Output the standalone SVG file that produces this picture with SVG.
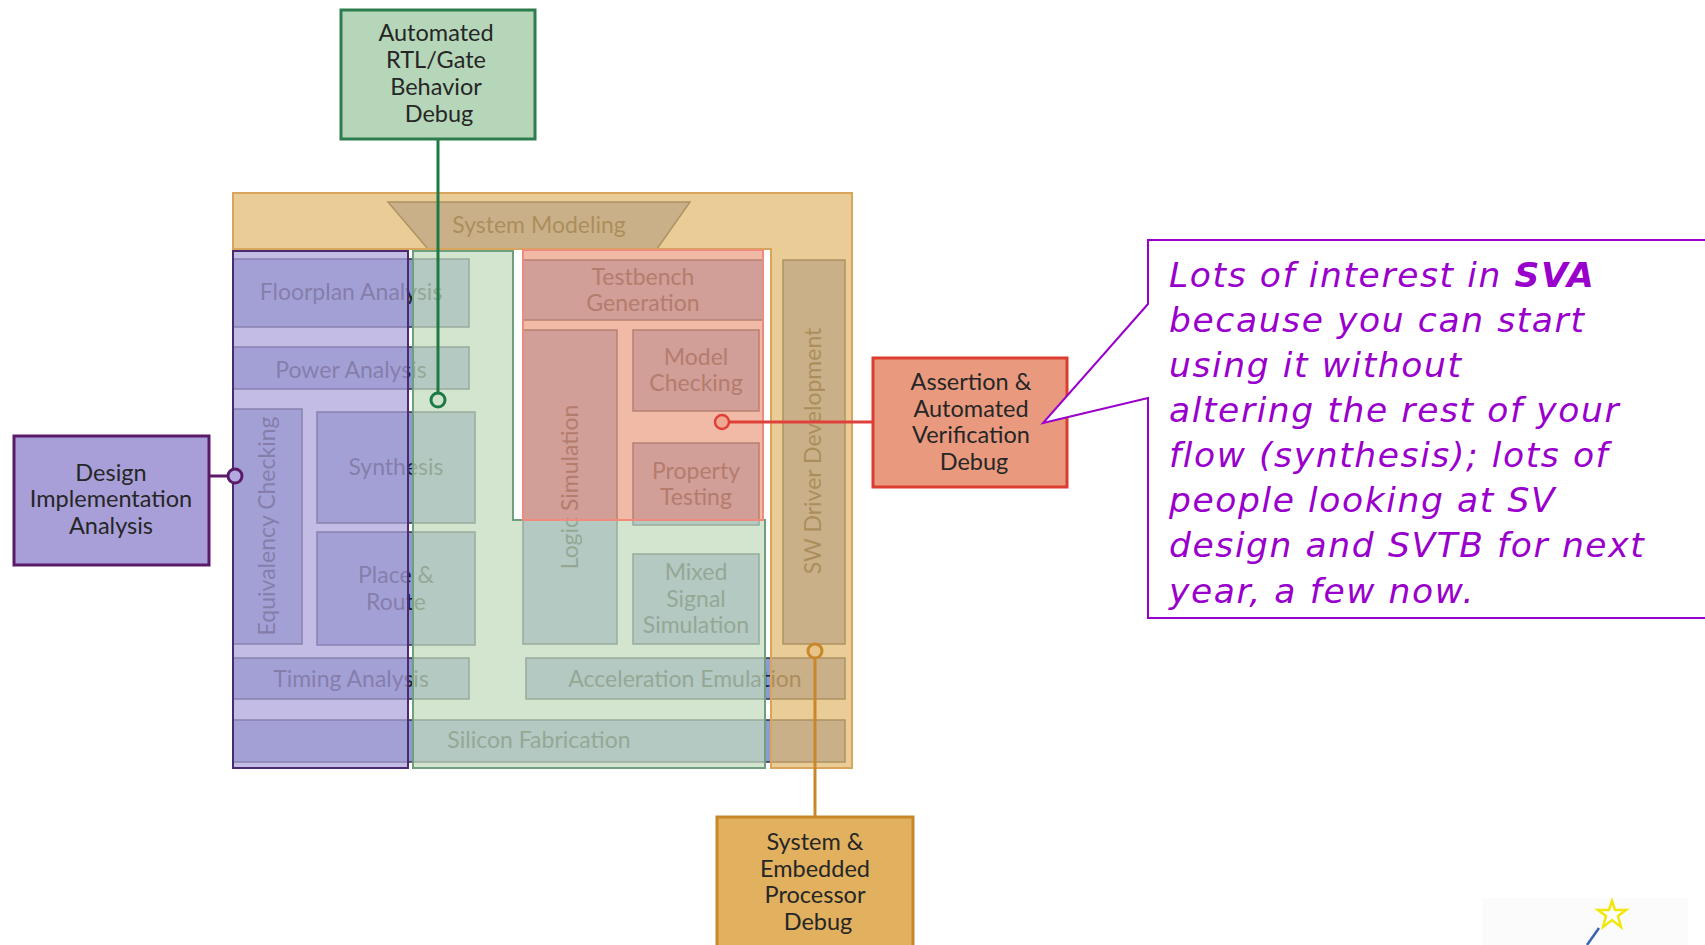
<svg xmlns="http://www.w3.org/2000/svg" width="1705" height="945" viewBox="0 0 1705 945">
<style>
text{font-family:Lato,"Liberation Sans",sans-serif}
.b{fill:#8e9bcc;stroke:#303048;stroke-width:1.5}
.t{font-size:23px;fill:#202030;text-anchor:middle}
.ov{fill-opacity:0.72;stroke-width:2}
.et{font-size:23.5px;fill:#262626;text-anchor:middle}
.co{font-family:"DejaVu Sans",Verdana,sans-serif;font-style:italic;font-size:34.5px;letter-spacing:1.6px;fill:#9900cc}
.cn{fill:none;stroke-width:3}
</style>
<rect width="1705" height="945" fill="#ffffff"/>

<g id="flow-blocks">
  <g id="system-modeling"><polygon class="b" points="388,202 690,202 657,249 428,249"/><text class="t" x="539" y="233">System Modeling</text></g>
  <g id="floorplan-analysis"><rect class="b" x="233" y="259" width="236" height="68"/><text class="t" x="351" y="300">Floorplan Analysis</text></g>
  <g id="power-analysis"><rect class="b" x="233" y="347" width="236" height="42"/><text class="t" x="351" y="378">Power Analysis</text></g>
  <g id="equivalency-checking"><rect class="b" x="233" y="409" width="69" height="235"/><text class="t" transform="translate(275,526) rotate(-90)">Equivalency Checking</text></g>
  <g id="synthesis"><rect class="b" x="317" y="412" width="158" height="111"/><text class="t" x="396" y="475">Synthesis</text></g>
  <g id="place-route"><rect class="b" x="317" y="532" width="158" height="113"/><text class="t" x="396" y="583">Place &amp;</text><text class="t" x="396" y="610">Route</text></g>
  <g id="timing-analysis"><rect class="b" x="233" y="658" width="236" height="41"/><text class="t" x="351" y="687">Timing Analysis</text></g>
  <g id="silicon-fabrication"><rect class="b" x="233" y="720" width="612" height="42"/><text class="t" x="539" y="748">Silicon Fabrication</text></g>
  <g id="testbench-generation"><rect class="b" x="523" y="260" width="240" height="60"/><text class="t" x="643" y="285">Testbench</text><text class="t" x="643" y="311">Generation</text></g>
  <g id="logic-simulation"><rect class="b" x="523" y="330" width="94" height="314"/><text class="t" transform="translate(578,487) rotate(-90)">Logic Simulation</text></g>
  <g id="model-checking"><rect class="b" x="633" y="330" width="126" height="81"/><text class="t" x="696" y="365">Model</text><text class="t" x="696" y="391">Checking</text></g>
  <g id="property-testing"><rect class="b" x="633" y="443" width="126" height="82"/><text class="t" x="696" y="479">Property</text><text class="t" x="696" y="505">Testing</text></g>
  <g id="mixed-signal-simulation"><rect class="b" x="633" y="554" width="126" height="90"/><text class="t" x="696" y="580">Mixed</text><text class="t" x="696" y="607">Signal</text><text class="t" x="696" y="633">Simulation</text></g>
  <g id="sw-driver-development"><rect class="b" x="783" y="260" width="62" height="384"/><text class="t" transform="translate(821,451) rotate(-90)" font-size="24">SW Driver Development</text></g>
  <g id="acceleration-emulation"><rect class="b" x="526" y="658" width="319" height="41"/><text class="t" x="685" y="687">Acceleration Emulation</text></g>
</g>

<g id="regions">
  <path id="region-system" class="ov" d="M233,193 H852 V768 H771 V249 H233 Z" fill="#e0b96e" stroke="#d9a45c"/>
  <rect id="region-implementation" class="ov" x="233" y="251" width="175" height="517" fill="#aca2da" stroke="#4a2a70"/>
  <path id="region-rtl" class="ov" d="M413,251 H513 V520 H765 V768 H413 Z" fill="#c2dbbc" stroke="#6e9f7e" stroke-width="1.5"/>
  <rect id="region-verification" class="ov" x="523" y="250" width="240" height="270" fill="#ec9f83" stroke="#f08a7a"/>
</g>

<g id="connectors">
  <line class="cn" x1="438" y1="139" x2="438" y2="393" stroke="#1e7a45"/>
  <circle cx="438" cy="400" r="7" fill="#cfe3cc" stroke="#1e7a45" stroke-width="3"/>
  <line class="cn" x1="209" y1="476" x2="228" y2="476" stroke="#5a1a6a"/>
  <circle cx="235" cy="476" r="7" fill="#b3abe0" stroke="#5a1a6a" stroke-width="3"/>
  <line class="cn" x1="729" y1="422" x2="873" y2="422" stroke="#e0403a" stroke-width="2.5"/>
  <circle cx="722" cy="422" r="7" fill="#f0a890" stroke="#e0403a" stroke-width="2.5"/>
  <line class="cn" x1="815" y1="658" x2="815" y2="817" stroke="#c8872b"/>
  <circle cx="815" cy="651" r="7" fill="#e6c48a" stroke="#c8872b" stroke-width="3"/>
</g>

<g id="node-rtl-debug">
  <rect x="341" y="10" width="194" height="129" fill="#b5d6b8" stroke="#2e7d4f" stroke-width="3"/>
  <text class="et" x="436" y="41">Automated</text>
  <text class="et" x="436" y="68">RTL/Gate</text>
  <text class="et" x="436" y="95">Behavior</text>
  <text class="et" x="439" y="122">Debug</text>
</g>
<g id="node-design-impl">
  <rect x="14" y="436" width="195" height="129" fill="#a89fd8" stroke="#5a1a6a" stroke-width="3"/>
  <text class="et" x="111" y="481">Design</text>
  <text class="et" x="111" y="507">Implementation</text>
  <text class="et" x="111" y="534">Analysis</text>
</g>
<g id="node-assertion">
  <rect x="873" y="358" width="194" height="129" fill="#e99a7e" stroke="#dd3c30" stroke-width="3"/>
  <text class="et" x="971" y="390">Assertion &amp;</text>
  <text class="et" x="971" y="417">Automated</text>
  <text class="et" x="971" y="443">Verification</text>
  <text class="et" x="974" y="470">Debug</text>
</g>
<g id="node-system-debug">
  <rect x="717" y="817" width="196" height="140" fill="#e1b160" stroke="#c8872b" stroke-width="3"/>
  <text class="et" x="815" y="850">System &amp;</text>
  <text class="et" x="815" y="877">Embedded</text>
  <text class="et" x="815" y="903">Processor</text>
  <text class="et" x="818" y="930">Debug</text>
</g>

<g id="callout">
  <path d="M1148,240 H1712 V618 H1148 V398 L1043,423 L1148,304 Z" fill="#ffffff" stroke="#9900cc" stroke-width="2"/>
  <text class="co" x="1169" y="287">Lots of interest in <tspan font-weight="bold">SVA</tspan></text>
  <text class="co" x="1169" y="332">because you can start</text>
  <text class="co" x="1169" y="377">using it without</text>
  <text class="co" x="1169" y="422">altering the rest of your</text>
  <text class="co" x="1169" y="467">flow (synthesis); lots of</text>
  <text class="co" x="1169" y="512">people looking at SV</text>
  <text class="co" x="1169" y="557">design and SVTB for next</text>
  <text class="co" x="1169" y="603">year, a few now.</text>
</g>

<g id="logo">
  <rect x="1482" y="898" width="206" height="47" fill="#fbfbfb"/>
  <line x1="1587" y1="945" x2="1599" y2="928" stroke="#3a64b0" stroke-width="2.5"/>
  <polygon points="1612,901 1615,910 1626,910 1618,916 1621,927 1612,920 1603,927 1606,916 1598,910 1609,910" fill="#ffffff" stroke="#f2e60a" stroke-width="2.5"/>
</g>
</svg>
